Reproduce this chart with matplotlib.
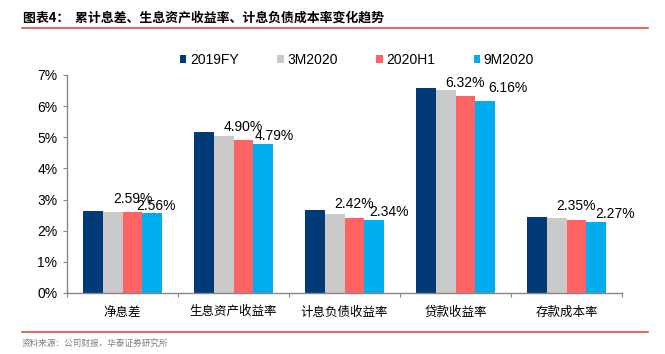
import matplotlib
matplotlib.use("Agg")
import matplotlib.pyplot as plt
import numpy as np
from matplotlib.patches import Patch
from matplotlib.lines import Line2D
from matplotlib.ticker import FuncFormatter, FixedLocator

plt.rcParams["font.family"] = ["Liberation Sans", "Noto Sans CJK SC"]

# --- data ---------------------------------------------------------------
categories = ["净息差", "生息资产收益率", "计息负债收益率", "贷款收益率", "存款成本率"]
series = ["2019FY", "3M2020", "2020H1", "9M2020"]
v_2019fy = [2.62, 5.18, 2.65, 6.58, 2.45]
v_3m2020 = [2.60, 5.03, 2.54, 6.51, 2.40]
v_2020h1 = [2.59, 4.90, 2.42, 6.32, 2.35]
v_9m2020 = [2.56, 4.79, 2.34, 6.16, 2.27]

title = "图表4：  累计息差、生息资产收益率、计息负债成本率变化趋势"
source = "资料来源：公司财报，华泰证券研究所"

colors = ["#003A78", "#C9C9C9", "#FF6363", "#00AEEF"]
CJK = "Noto Sans CJK SC"

# label nudges (px) for the 9M2020 labels, as placed in the original
nudge_9m = [(4, 7), (11, 8), (15, 8), (22, 13), (19, 8)]

# --- figure -------------------------------------------------------------
W, H = 665, 354
fig = plt.figure(figsize=(W / 100, H / 100), dpi=100)
ax = fig.add_axes([67 / W, 1 - 293 / H, (622 - 67) / W, (293 - 75) / H])

x = np.arange(len(categories))
bw = 0.18
all_vals = [v_2019fy, v_3m2020, v_2020h1, v_9m2020]
bars = []
for i, (vals, c) in enumerate(zip(all_vals, colors)):
    b = ax.bar(x + (i - 1.5) * bw, vals, width=bw, color=c, linewidth=0, zorder=2)
    bars.append(b)

px = 0.72  # points per pixel at dpi 100
for j, rect in enumerate(bars[2]):
    ax.annotate(f"{v_2020h1[j]:.2f}%", (rect.get_x() + rect.get_width() / 2, rect.get_height()),
                xytext=(0, 13.5 * px), textcoords="offset points",
                ha="center", va="center", fontsize=10, color="#000000")
for j, rect in enumerate(bars[3]):
    dx, dy = nudge_9m[j]
    ax.annotate(f"{v_9m2020[j]:.2f}%", (rect.get_x() + rect.get_width() / 2, rect.get_height()),
                xytext=(dx * px, dy * px), textcoords="offset points",
                ha="center", va="center", fontsize=10, color="#000000")

ax.set_xlim(-0.5, len(categories) - 0.5)
ax.set_ylim(0, 7)
ax.set_yticks(range(0, 8))
ax.yaxis.set_major_formatter(FuncFormatter(lambda v, p: f"{v:.0f}%"))
ax.tick_params(axis="y", length=3, width=0.8, color="#868686", pad=4, labelsize=10)

ax.set_xticks(x)
ax.set_xticklabels(categories, fontfamily=CJK, fontsize=9)
ax.tick_params(axis="x", which="major", length=0, pad=9)
ax.xaxis.set_minor_locator(FixedLocator(np.arange(-0.5, len(categories), 1.0)))
ax.tick_params(axis="x", which="minor", length=3, width=0.8, color="#868686")

for s in ["top", "right"]:
    ax.spines[s].set_visible(False)
for s in ["left", "bottom"]:
    ax.spines[s].set_color("#868686")
    ax.spines[s].set_linewidth(1.0)

handles = [Patch(facecolor=c, edgecolor="none") for c in colors]
fig.legend(handles, series, loc="center", bbox_to_anchor=(357 / W, 1 - 60 / H),
           ncol=4, frameon=False, fontsize=10, handlelength=0.45, handleheight=0.45,
           handletextpad=0.25, columnspacing=2.8)

# header / footer
fig.text(23 / W, 1 - 18 / H, title, fontfamily=CJK, fontsize=9.3, fontweight="bold",
         ha="left", va="center")
fig.add_artist(Line2D([22 / W, 648 / W], [1 - 28 / H, 1 - 28 / H], color="#E8382B", lw=1.1))
fig.add_artist(Line2D([22 / W, 648 / W], [1 - 332 / H, 1 - 332 / H], color="#E8382B", lw=1.1))
fig.text(22 / W, 1 - 343 / H, source, fontfamily=CJK, fontsize=6.2, color="#7F7F7F",
         ha="left", va="center")

fig.savefig("out.png", dpi=100)
